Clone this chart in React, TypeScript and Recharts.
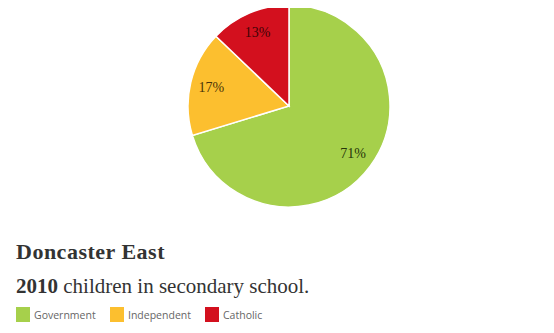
import React from 'react';
import { PieChart, Pie, Cell } from 'recharts';

const categories = ['Government', 'Independent', 'Catholic'];
const shares = [71, 17, 13];
const COLORS = ['#a6d04b', '#fcbf2f', '#d3101e'];
const LABEL_COLORS = ['#27340a', '#4a3408', '#3d0306'];

const data = categories.map((name, i) => ({ name, value: shares[i] }));

const SERIF = '"Liberation Serif", "DejaVu Serif", serif';
const SANS = '"Open Sans", "Noto Sans", sans-serif';

const RADIAN = Math.PI / 180;

const renderLabel = (props: any) => {
  const { cx, cy, midAngle, outerRadius, index, value } = props;
  const r = outerRadius * 0.79;
  const x = cx + r * Math.cos(-midAngle * RADIAN);
  const y = cy + r * Math.sin(-midAngle * RADIAN);
  return (
    <text
      x={x}
      y={y}
      fill={LABEL_COLORS[index]}
      textAnchor="middle"
      dominantBaseline="central"
      fontFamily={SERIF}
      fontSize={14}
    >
      {`${value}%`}
    </text>
  );
};

const legendX = [16, 110, 205];

export default function App() {
  return (
    <div style={{ position: 'relative', width: 554, height: 333, background: '#fff', marginTop: -8, marginLeft: -8 }}>
      <div style={{ position: 'absolute', left: 0, top: 0 }}>
        <PieChart width={554} height={220} margin={{ top: 0, right: 0, bottom: 0, left: 0 }}>
          <Pie
            data={data}
            dataKey="value"
            nameKey="name"
            cx={289}
            cy={106}
            outerRadius={101}
            startAngle={90}
            endAngle={-270}
            stroke="#fff"
            strokeWidth={1.5}
            label={renderLabel}
            labelLine={false}
            isAnimationActive={false}
          >
            {data.map((d, i) => (
              <Cell key={d.name} fill={COLORS[i]} />
            ))}
          </Pie>
        </PieChart>
      </div>
      <div
        style={{
          position: 'absolute',
          left: 16,
          top: 239,
          fontFamily: SERIF,
          fontWeight: 'bold',
          fontSize: 22,
          letterSpacing: 0.5,
          color: '#333',
          whiteSpace: 'nowrap',
        }}
      >
        Doncaster East
      </div>
      <div
        style={{
          position: 'absolute',
          left: 16,
          top: 274,
          fontFamily: SERIF,
          fontSize: 21,
          color: '#333',
          whiteSpace: 'nowrap',
        }}
      >
        <b>2010</b> children in secondary school.
      </div>
      {categories.map((c, i) => (
        <div
          key={c}
          style={{
            position: 'absolute',
            left: legendX[i],
            top: 307,
            display: 'flex',
            alignItems: 'center',
            fontFamily: SANS,
            fontSize: 10.5,
            color: '#666',
            whiteSpace: 'nowrap',
          }}
        >
          <span style={{ display: 'inline-block', width: 14, height: 15, background: COLORS[i], marginRight: 4 }} />
          {c}
        </div>
      ))}
    </div>
  );
}
